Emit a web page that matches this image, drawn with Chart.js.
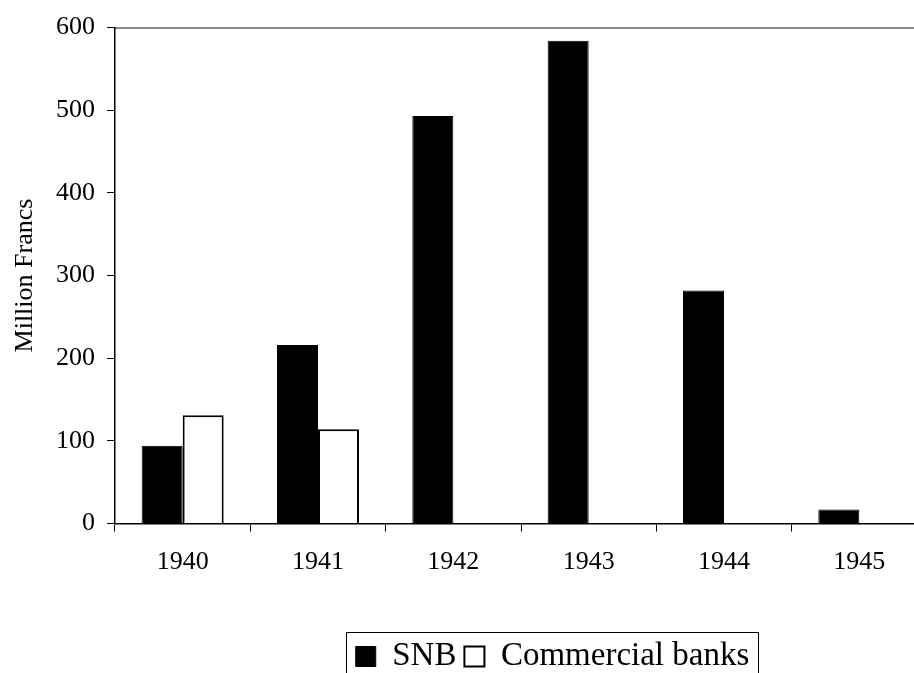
<!DOCTYPE html>
<html>
<head>
<meta charset="utf-8">
<script src="https://cdn.jsdelivr.net/npm/chart.js@4.4.1/dist/chart.umd.min.js"></script>
<style>
  html, body { margin: 0; padding: 0; background: #fff; overflow: hidden; }
  #wrap { width: 914px; height: 673px; overflow: hidden; }
</style>
</head>
<body>
<div id="wrap"><canvas id="myChart" width="930" height="683"></canvas></div>
<script>
// data
const years = ['1940', '1941', '1942', '1943', '1944', '1945'];
const snb = [94, 216, 493, 584, 282, 17];
const commercial = [131, 114, null, null, null, null];
const yTicks = [0, 100, 200, 300, 400, 500, 600];

const serif = 'Liberation Serif, Times New Roman, serif';

// moves the legend right and draws a frame round it
const legendFrame = {
  id: 'legendFrame',
  afterLayout(chart) {
    const lg = chart.legend;
    const dx = 89;
    lg.left += dx;
    lg.right += dx;
  },
  afterDraw(chart) {
    const boxes = chart.legend.legendHitBoxes;
    if (!boxes || !boxes.length) return;
    const first = boxes[0], last = boxes[boxes.length - 1];
    const ctx = chart.ctx;
    ctx.save();
    ctx.strokeStyle = '#000';
    ctx.lineWidth = 1;
    const x0 = Math.round(first.left - 10) + 0.5;
    const x1 = Math.round(last.left + last.width + 9) + 0.5;
    const y0 = Math.round(first.top - 8.5) + 0.5;
    ctx.strokeRect(x0, y0, x1 - x0, 80);
    ctx.restore();
  }
};

const ctx = document.getElementById('myChart');
const myChart = new Chart(ctx, {
  type: 'bar',
  data: {
    labels: years,
    datasets: [{
      label: 'SNB',
      data: snb,
      backgroundColor: '#000',
      borderColor: '#000',
      borderWidth: 1,
      barPercentage: 1,
      categoryPercentage: 0.606
    }, {
      label: 'Commercial banks',
      data: commercial,
      backgroundColor: '#fff',
      borderColor: '#000',
      borderWidth: 2,
      barPercentage: 1,
      categoryPercentage: 0.606
    }]
  },
  options: {
    responsive: false,
    animation: false,
    layout: { padding: { top: 27, right: 3, left: 0, bottom: 0 } },
    plugins: {
      tooltip: { enabled: false },
      legend: {
        position: 'bottom',
        labels: {
          color: '#000',
          font: { family: serif, size: 33 },
          boxWidth: 20,
          boxHeight: 20,
          padding: 8
        }
      }
    },
    scales: {
      x: {
        grid: { offset: true, drawOnChartArea: false, tickLength: 8, color: '#000' },
        border: { color: '#000', width: 1.5 },
        ticks: { color: '#000', font: { family: serif, size: 26 }, padding: 15, maxRotation: 0 },
        afterFit: (scale) => { scale.height = 108.5; }
      },
      xTop: {
        position: 'top',
        grid: { display: false, drawTicks: false },
        border: { color: '#8c8c8c', width: 2 },
        ticks: { display: false }
      },
      y: {
        min: 0,
        max: 600,
        afterBuildTicks: (scale) => { scale.ticks = yTicks.map(v => ({ value: v })); },
        grid: { drawOnChartArea: false, tickLength: 8, color: '#000' },
        border: { color: '#000', width: 1.5 },
        ticks: { color: '#000', font: { family: serif, size: 26 }, padding: 12 },
        title: { display: true, text: 'Million Francs', color: '#000', font: { family: serif, size: 26 }, padding: { top: 10, bottom: 0 } },
        afterFit: (scale) => { scale.width = 115; }
      }
    }
  },
  plugins: [legendFrame]
});
</script>
</body>
</html>
